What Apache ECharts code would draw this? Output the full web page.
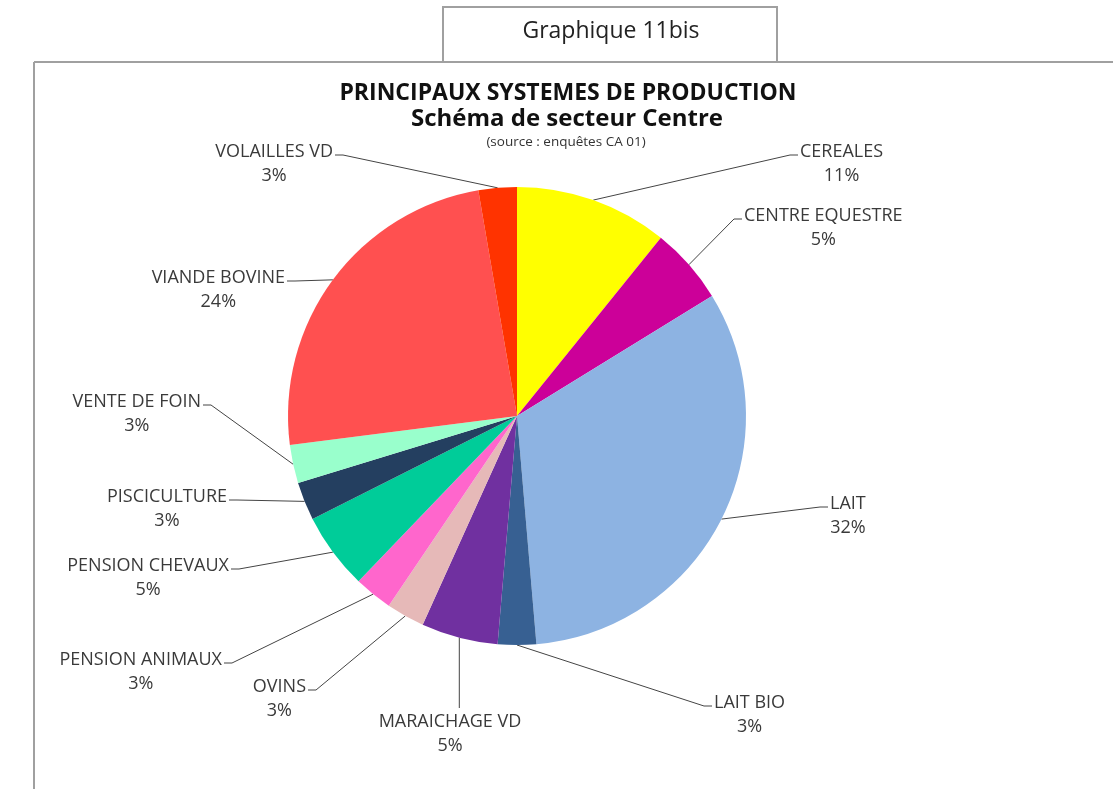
<!DOCTYPE html>
<html>
<head>
<meta charset="utf-8">
<script src="https://cdn.jsdelivr.net/npm/echarts@6/dist/echarts.min.js"></script>
<style>
    html, body { margin: 0; padding: 0; background: #fff; }
    #chart { width: 1113px; height: 789px; }
</style>
</head>
<body>
<div id="chart"></div>
<script>
// data
const categories = ['CEREALES', 'CENTRE EQUESTRE', 'LAIT', 'LAIT BIO', 'MARAICHAGE VD', 'OVINS',
    'PENSION ANIMAUX', 'PENSION CHEVAUX', 'PISCICULTURE', 'VENTE DE FOIN', 'VIANDE BOVINE', 'VOLAILLES VD'];
const counts = [4, 2, 12, 1, 2, 1, 1, 2, 1, 1, 9, 1];
const colors = ['#ffff00', '#cc0099', '#8db3e2', '#376092', '#7030a0', '#e6b9b8',
    '#ff66cc', '#00cc99', '#243f60', '#99ffcc', '#ff5050', '#ff3300'];

// where each leader line meets its label: [x, y, side]
// 'l' = label to the right of the point, 'r' = label to the left, 't' = label below (x = label centre)
const labelAnchors = [
    [798, 155, 'l'], [742, 219, 'l'], [828, 507, 'l'], [712, 706, 'l'],
    [450, 722, 't'], [308, 690, 'r'], [224, 663, 'r'], [231, 569, 'r'],
    [229, 500, 'r'], [203, 405, 'r'], [287, 281, 'r'], [335, 155, 'r']
];
const LINE_H = 24;

const chart = echarts.init(document.getElementById('chart'));
window.addEventListener('resize', () => chart.resize());

const pieData = categories.map((name, i) => ({
    name: name,
    value: counts[i],
    itemStyle: { color: colors[i] }
}));

const option = {
    animation: false,
    graphic: [
        { type: 'line', shape: { x1: 34, y1: 62, x2: 1113, y2: 62 }, style: { stroke: '#a0a0a0', lineWidth: 2 } },
        { type: 'line', shape: { x1: 34, y1: 62, x2: 34, y2: 789 }, style: { stroke: '#a0a0a0', lineWidth: 2 } },
        { type: 'rect', shape: { x: 443, y: 7, width: 334, height: 55 }, style: { fill: '#fff', stroke: '#a0a0a0', lineWidth: 2 } },
        {
            type: 'text', x: 611, y: 31,
            style: { text: 'Graphique 11bis', font: '23px "Open Sans"', fill: '#222', align: 'center', verticalAlign: 'middle' }
        },
        {
            type: 'text', x: 568, y: 93,
            style: { text: 'PRINCIPAUX SYSTEMES DE PRODUCTION', font: 'bold 23px "Open Sans"', fill: '#111', align: 'center', verticalAlign: 'middle' }
        },
        {
            type: 'text', x: 567, y: 119,
            style: { text: 'Schéma de secteur Centre', font: 'bold 24px "Open Sans"', fill: '#111', align: 'center', verticalAlign: 'middle' }
        },
        {
            type: 'text', x: 566, y: 142,
            style: { text: '(source : enquêtes CA 01)', font: '13.5px "Open Sans"', fill: '#333', align: 'center', verticalAlign: 'middle' }
        }
    ],
    series: [{
        type: 'pie',
        center: [517, 416],
        radius: 229,
        startAngle: 90,
        clockwise: true,
        avoidLabelOverlap: false,
        data: pieData,
        itemStyle: { borderWidth: 0 },
        label: {
            show: true,
            position: 'outside',
            formatter: p => p.name + '\n' + Math.round(p.percent) + '%',
            fontFamily: 'Open Sans',
            fontSize: 18,
            lineHeight: LINE_H,
            color: '#3a3a3a',
            align: 'center'
        },
        labelLine: {
            show: true,
            smooth: false,
            lineStyle: { color: '#444', width: 1 }
        },
        labelLayout: function (params) {
            const a = labelAnchors[params.dataIndex];
            const p0 = params.labelLinePoints[0];
            const w = params.labelRect.width;
            let cx, nameY, pts;
            if (a[2] === 't') {
                cx = a[0];
                nameY = a[1];
                pts = [p0, [p0[0], nameY - LINE_H / 2 - 2]];
            } else if (a[2] === 'l') {
                cx = a[0] + 2 + w / 2;
                nameY = a[1] - 3;
                pts = [p0, [a[0] - 8, a[1]], [a[0], a[1]]];
            } else {
                cx = a[0] - 2 - w / 2;
                nameY = a[1] - 3;
                pts = [p0, [a[0] + 8, a[1]], [a[0], a[1]]];
            }
            return {
                x: cx,
                y: nameY - LINE_H / 2,
                align: 'center',
                verticalAlign: 'top',
                labelLinePoints: pts
            };
        }
    }]
};

option && chart.setOption(option);
</script>
</body>
</html>
